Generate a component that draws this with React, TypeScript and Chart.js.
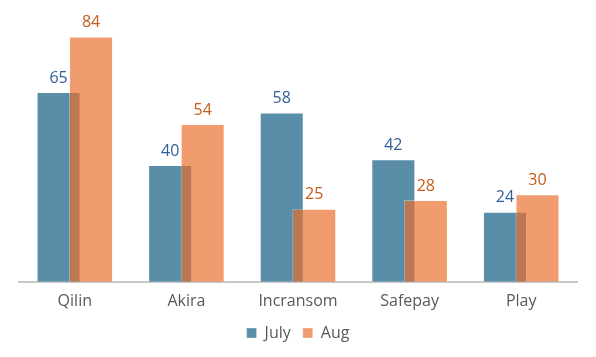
import React, { useEffect, useRef } from "react";
import { Chart, registerables } from "chart.js";

Chart.register(...registerables);

const categories = ["Qilin", "Akira", "Incransom", "Safepay", "Play"];
const julyValues = [65, 40, 58, 42, 24];
const augValues = [84, 54, 25, 28, 30];
const seriesNames = ["July", "Aug"];

const FONT = "'Open Sans', Lato, sans-serif";

// Draw datasets in their natural order so that Aug sits on top of July
const orderPlugin = {
  id: "drawOrder",
  beforeDatasetsDraw(chart: any) {
    const metas = chart.getSortedVisibleDatasetMetas();
    metas.forEach((m: any) => m.controller.draw());
    return false;
  },
};

const labelPlugin = {
  id: "barLabels",
  afterDraw(chart: any) {
    const ctx = chart.ctx;
    const colors = ["#2F5F98", "#C85A1E"];
    chart.data.datasets.forEach((ds: any, i: number) => {
      const meta = chart.getDatasetMeta(i);
      if (meta.hidden) return;
      meta.data.forEach((bar: any, j: number) => {
        ctx.save();
        ctx.font = `16px ${FONT}`;
        ctx.fillStyle = colors[i];
        ctx.textAlign = "center";
        ctx.textBaseline = "bottom";
        ctx.fillText(String(ds.data[j]), bar.x, bar.y - 6);
        ctx.restore();
      });
    });
  },
};

export default function App() {
  const ref = useRef<HTMLCanvasElement>(null);
  useEffect(() => {
    const chart = new Chart(ref.current!, {
      type: "bar",
      data: {
        labels: categories,
        datasets: [
          {
            label: seriesNames[0],
            data: julyValues,
            backgroundColor: "#5A8EA8",
            borderColor: "rgba(255,255,255,0.35)",
            borderWidth: 1,
            categoryPercentage: 0.583,
            barPercentage: 1.354,
          },
          {
            label: seriesNames[1],
            data: augValues,
            backgroundColor: "rgba(233,109,42,0.68)",
            borderColor: "rgba(255,255,255,0.35)",
            borderWidth: 1,
            categoryPercentage: 0.583,
            barPercentage: 1.354,
          },
        ],
      },
      options: {
        responsive: false,
        animation: false,
        layout: { padding: { top: 19, left: 19, right: 19, bottom: 6 } },
        plugins: {
          legend: {
            position: "bottom",
            labels: {
              boxWidth: 10,
              boxHeight: 10,
              color: "#595959",
              font: { family: FONT, size: 16 },
              padding: 12,
            },
          },
          tooltip: { enabled: false },
        },
        scales: {
          x: {
            grid: { display: false },
            border: { display: true, color: "#C8C8C8", width: 2 },
            ticks: { color: "#595959", font: { family: FONT, size: 16 }, padding: 2 },
          },
          y: { display: false, min: 0, max: 90 },
        },
      },
      plugins: [orderPlugin, labelPlugin],
    });
    return () => chart.destroy();
  }, []);
  return (
    <div style={{ position: "fixed", left: 0, top: 0, width: 596, height: 357, background: "#fff" }}>
      <canvas ref={ref} width={596} height={357} />
    </div>
  );
}
